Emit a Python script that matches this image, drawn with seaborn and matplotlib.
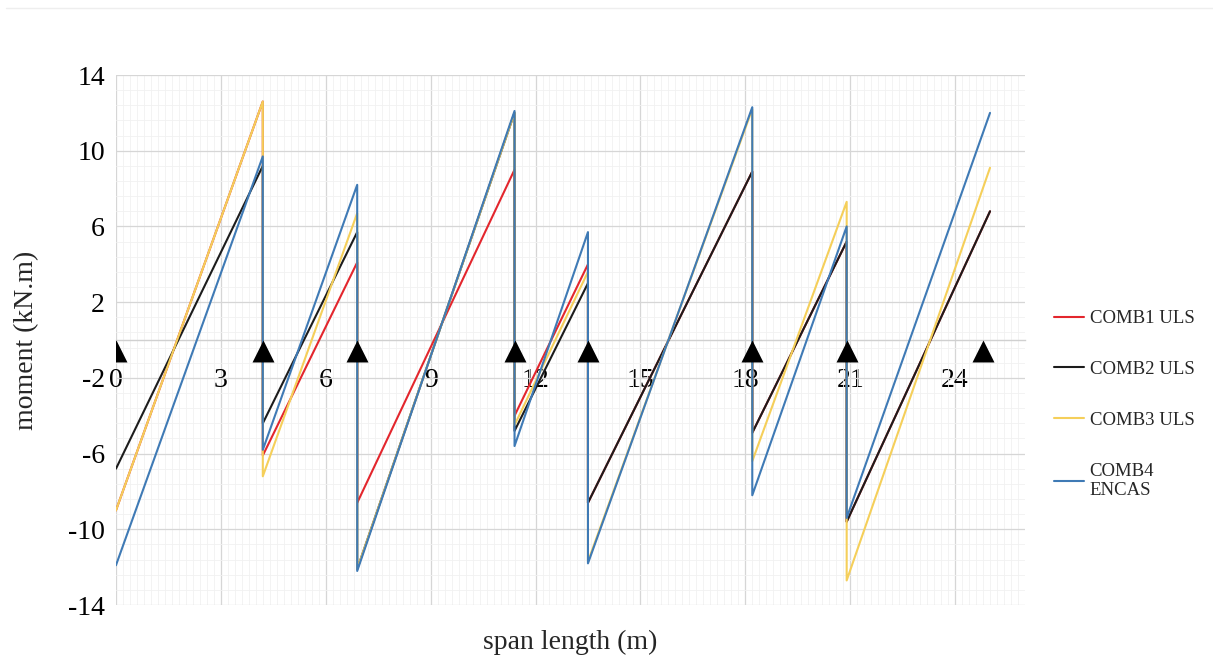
import numpy as np
import pandas as pd
import seaborn as sns
import matplotlib.pyplot as plt
from matplotlib.lines import Line2D

# support positions along the beam (m)
span_x = [0.0, 4.2, 6.9, 11.4, 13.5, 18.2, 20.9, 25.0]
support_x = [0.0, 4.2, 6.9, 11.4, 13.5, 18.2, 20.9, 24.8]

combos = ["COMB1 ULS", "COMB2 ULS", "COMB3 ULS", "COMB4\nENCAS"]

# moment at left / right end of each span (kN.m)
comb1_left = [-9.0, -6.1, -8.6, -4.0, -8.6, -4.9, -9.6]
comb1_right = [12.6, 4.1, 9.0, 4.0, 8.9, 5.2, 6.8]
comb2_left = [-6.8, -4.4, -12.1, -4.8, -8.6, -4.9, -9.6]
comb2_right = [9.2, 5.7, 12.0, 3.0, 8.9, 5.2, 6.8]
comb3_left = [-9.0, -7.2, -12.1, -4.5, -11.7, -6.4, -12.7]
comb3_right = [12.6, 6.7, 12.0, 3.6, 12.2, 7.3, 9.1]
comb4_left = [-11.9, -5.8, -12.2, -5.6, -11.8, -8.2, -9.4]
comb4_right = [9.7, 8.2, 12.1, 5.7, 12.3, 6.0, 12.0]

colors = ["#e3262d", "#1c1c1c", "#f5cf5a", "#3f7ab5"]

rows = []
for name, left, right in zip(combos,
                             [comb1_left, comb2_left, comb3_left, comb4_left],
                             [comb1_right, comb2_right, comb3_right, comb4_right]):
    i = 0
    for k in range(len(left)):
        rows.append((name, i, span_x[k], left[k])); i += 1
        rows.append((name, i, span_x[k + 1], right[k])); i += 1
df = pd.DataFrame(rows, columns=["combo", "order", "x", "moment"])

sns.set_theme(style="white")
plt.rcParams['font.family'] = ['Liberation Serif', 'DejaVu Serif']
plt.rcParams['axes.unicode_minus'] = False

fig = plt.figure(figsize=(12.13, 6.58), dpi=100)
ax = fig.add_axes([0.0956, 0.0805, 0.7494, 0.8055])

sns.lineplot(data=df, x="x", y="moment", hue="combo", hue_order=combos,
             palette=colors, sort=False, estimator=None, lw=1.5, ax=ax, zorder=3)

ax.scatter(support_x, [-0.6] * len(support_x), marker="^", s=250,
           color="black", zorder=5, linewidths=0)

ax.set_xlim(0, 26)
ax.set_ylim(-14, 14)
ax.set_xticks(np.arange(0, 25, 3))
ax.set_yticks(np.arange(-14, 15, 4))
ax.set_xticks(np.arange(0, 26.01, 0.2), minor=True)
ax.set_yticks(np.arange(-14, 14.01, 0.8), minor=True)
ax.grid(which="major", color="#d6d6d6", lw=0.9)
ax.grid(which="minor", color="#f1f1f1", lw=0.6)
ax.set_axisbelow(True)

for s in ["top", "right", "left"]:
    ax.spines[s].set_visible(False)
ax.spines["bottom"].set_position(("data", 0))
ax.spines["bottom"].set_color("#d0d0d0")
ax.spines["bottom"].set_linewidth(1.0)
ax.spines["bottom"].set_zorder(1)

ax.tick_params(axis="x", which="both", length=0, pad=20, labelsize=20, colors="black")
ax.tick_params(axis="y", which="both", length=0, pad=8, labelsize=20, colors="black")

ax.set_xlabel("span length (m)", fontsize=20)
ax.set_ylabel("moment (kN.m)", fontsize=20)
ax.xaxis.set_label_coords(0.5, -0.047)
ax.yaxis.set_label_coords(-0.085, 0.5)

handles, labels = ax.get_legend_handles_labels()
ax.get_legend().remove()
fig.legend(handles, labels, loc="center left", bbox_to_anchor=(0.855, 0.385),
           frameon=False, fontsize=13.5, handlelength=1.6, handletextpad=0.3,
           labelspacing=1.8)

# faint frame line along the top of the image
fig.add_artist(Line2D([0.005, 1.0], [0.988, 0.988], color="#eeeeee", lw=1,
                      transform=fig.transFigure))

fig.savefig("out.png", dpi=100)
